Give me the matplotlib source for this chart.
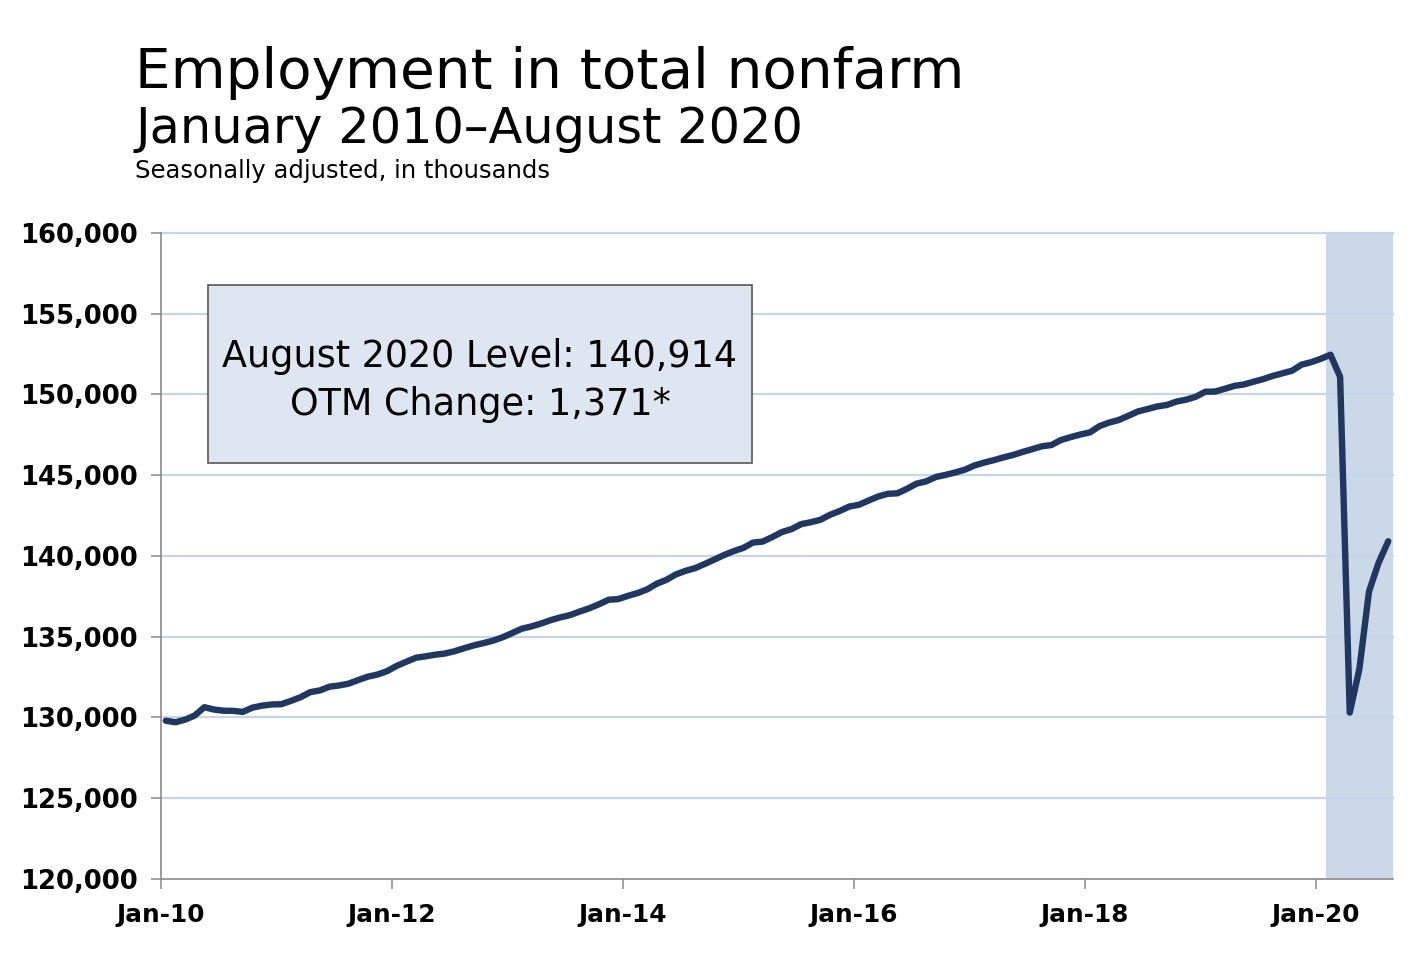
import numpy as np
import matplotlib
matplotlib.use("Agg")
import matplotlib.pyplot as plt
from matplotlib.patches import Rectangle

# === DATA (thousands, seasonally adjusted, Jan 2010 - Aug 2020) ===
emp_2010 = [129798, 129705, 129865, 130120, 130637, 130492, 130419, 130410, 130345, 130610, 130733, 130806]
emp_2011 = [130822, 131028, 131256, 131568, 131676, 131907, 131983, 132095, 132321, 132528, 132661, 132870]
emp_2012 = [133199, 133455, 133701, 133788, 133888, 133962, 134101, 134289, 134463, 134605, 134757, 134967]
emp_2013 = [135230, 135500, 135640, 135820, 136030, 136200, 136340, 136560, 136760, 137010, 137290, 137330]
emp_2014 = [137530, 137700, 137930, 138280, 138520, 138860, 139080, 139250, 139510, 139780, 140060, 140300]
emp_2015 = [140500, 140830, 140890, 141170, 141480, 141660, 141970, 142090, 142240, 142550, 142780, 143060]
emp_2016 = [143170, 143430, 143680, 143850, 143880, 144160, 144480, 144620, 144890, 145020, 145170, 145340]
emp_2017 = [145600, 145780, 145930, 146100, 146250, 146440, 146610, 146790, 146870, 147180, 147360, 147520]
emp_2018 = [147650, 148040, 148260, 148420, 148680, 148950, 149100, 149260, 149350, 149560, 149680, 149860]
emp_2019 = [150170, 150180, 150350, 150530, 150620, 150790, 150950, 151150, 151310, 151470, 151850, 152000]
emp_2020 = [152210, 152463, 151090, 130303, 133002, 137802, 139582, 140914]

employment = (emp_2010 + emp_2011 + emp_2012 + emp_2013 + emp_2014 + emp_2015
              + emp_2016 + emp_2017 + emp_2018 + emp_2019 + emp_2020)

tick_labels = ["Jan-10", "Jan-12", "Jan-14", "Jan-16", "Jan-18", "Jan-20"]
y_ticks = [120000, 125000, 130000, 135000, 140000, 145000, 150000, 155000, 160000]
recession_start = 121   # Feb 2020 (month index)

box_lines = ["August 2020 Level: 140,914", "OTM Change: 1,371*"]

# === STYLE ===
color_line = "#1f3761"
color_shade = "#cbd8e7"
color_grid = "#c5d5ea"
color_box = "#dee6f1"
color_axis = "#8a8a8a"
plt.rcParams['font.family'] = ['DejaVu Sans']

n_months = len(employment)
x = np.arange(n_months) + 0.5

fig = plt.figure(figsize=(14.26, 9.72), dpi=100)
ax = fig.add_axes([0.1129, 0.0957, 0.864, 0.6646])

# shaded recession band, gridlines on top of it, then the series
ax.axvspan(recession_start, n_months, color=color_shade, zorder=0.3, lw=0)
for yv in y_ticks[1:]:
    ax.axhline(yv, color=color_grid, lw=1.6, zorder=0.6, clip_on=False)
ax.plot(x, employment, color=color_line, lw=4.6, solid_joinstyle='round',
        solid_capstyle='round', zorder=3)

ax.set_xlim(0, n_months)
ax.set_ylim(120000, 160000)
ax.set_yticks(y_ticks)
ax.set_yticklabels([f"{v:,}" for v in y_ticks])
ax.set_xticks(np.arange(0, n_months, 24))
ax.set_xticklabels(tick_labels)

for side in ["top", "right"]:
    ax.spines[side].set_visible(False)
for side in ["left", "bottom"]:
    ax.spines[side].set_color(color_axis)
    ax.spines[side].set_linewidth(1.2)
ax.tick_params(axis='both', direction='out', length=7, width=1.1, color=color_axis)
ax.tick_params(axis='y', pad=10, labelsize=18.6)
ax.tick_params(axis='x', pad=10, labelsize=17.8)
for lab in ax.get_xticklabels() + ax.get_yticklabels():
    lab.set_fontweight('bold')

# annotation box
ax.add_patch(Rectangle((0.0381, 0.644), 0.4416, 0.2755, transform=ax.transAxes,
                       facecolor=color_box, edgecolor="#555555", lw=1.2, zorder=4))
ax.text(0.2589, 0.7926, box_lines[0], transform=ax.transAxes, ha='center',
        va='baseline', fontsize=26.3, zorder=5)
ax.text(0.2589, 0.7183, box_lines[1], transform=ax.transAxes, ha='center',
        va='baseline', fontsize=26.3, zorder=5)

# titles
fig.text(0.0947, 0.9095, "Employment in total nonfarm", fontsize=40.6, va='baseline')
fig.text(0.0947, 0.8529, "January 2010\u2013August 2020", fontsize=35.6, va='baseline')
fig.text(0.0947, 0.8169, "Seasonally adjusted, in thousands", fontsize=17.5, va='baseline')

fig.savefig("out.png", dpi=100)
